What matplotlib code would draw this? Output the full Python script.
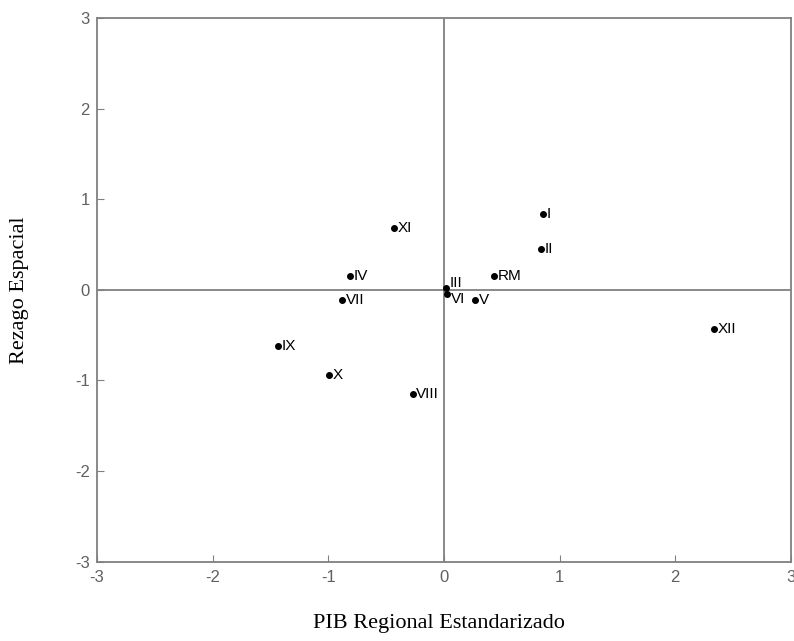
import matplotlib
matplotlib.use("Agg")
import matplotlib.pyplot as plt

plt.rcParams["axes.unicode_minus"] = False

# Region data: standardized GDP vs spatial lag
regions = ["I", "II", "III", "IV", "V", "VI", "VII", "VIII", "IX", "X", "XI", "XII", "RM"]
pib_std = [0.86, 0.84, 0.02, -0.81, 0.27, 0.03, -0.88, -0.27, -1.43, -0.99, -0.43, 2.34, 0.435]
rezago = [0.84, 0.45, 0.02, 0.15, -0.11, -0.05, -0.11, -1.15, -0.62, -0.94, 0.68, -0.43, 0.15]
# small vertical nudge (in data units) so III and VI don't collide
label_dy = {"III": 0.05, "VI": -0.05}

ticks = [-3, -2, -1, 0, 1, 2, 3]

fig = plt.figure(figsize=(7.94, 6.41), dpi=100)
ax = fig.add_axes([0.122, 0.124, 0.874, 0.848])

# Quadrant lines
ax.axhline(0, color="#808080", linewidth=1.3, zorder=1)
ax.axvline(0, color="#808080", linewidth=1.3, zorder=1)

ax.scatter(pib_std, rezago, s=16, color="black", zorder=3)

for name, x, y in zip(regions, pib_std, rezago):
    ax.text(
        x + 0.03, y + label_dy.get(name, 0), name,
        fontsize=11, family="Liberation Sans",
        va="center", ha="left", zorder=4
    )

ax.set_xlim(-3, 3)
ax.set_ylim(-3, 3)
ax.set_xticks(ticks)
ax.set_yticks(ticks)
ax.tick_params(direction="in", length=5, color="#808080",
               labelcolor="#606060", labelsize=12, top=False, right=False)
ax.tick_params(axis="x", pad=6)
ax.tick_params(axis="y", pad=5)
for lab in ax.get_xticklabels() + ax.get_yticklabels():
    lab.set_family("Liberation Sans")

for spine in ax.spines.values():
    spine.set_color("#808080")
    spine.set_linewidth(1.3)

fig.text(0.553, 0.028, "PIB Regional Estandarizado", ha="center", va="center",
         fontsize=16, family="Liberation Serif")
fig.text(0.024, 0.547, "Rezago Espacial", ha="center", va="center",
         rotation=90, fontsize=16, family="Liberation Serif")

fig.savefig("out.png", dpi=100)
plt.close(fig)
